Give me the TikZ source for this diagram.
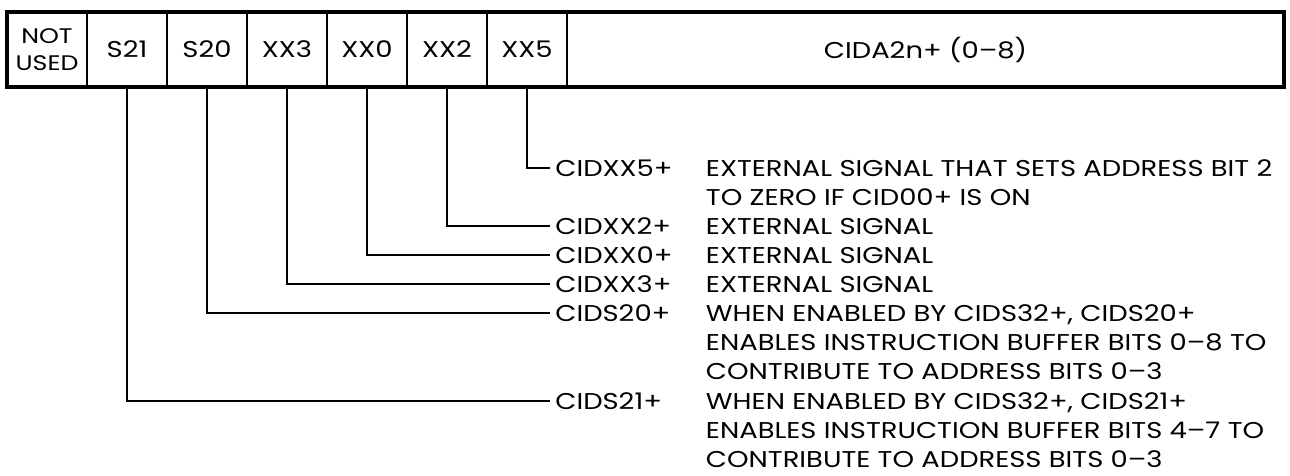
\documentclass[tikz,border=0pt]{standalone}
\usepackage{fontspec}
\setmainfont[FakeStretch=1.2]{Poppins}
\usetikzlibrary{
    positioning
}
\tikzset{
    field/.style={
        draw,
        rectangle,
        line width=1.1pt,
        inner sep=0pt,
        outer sep=0pt,
        minimum width=16mm,
        minimum height=15mm,
        align=center
    },
    signal/.style={
        anchor=west,
        inner ysep=0pt,
        inner xsep=2.5pt
    },
    desc/.style={
        anchor=base west,
        inner sep=0pt
    }
}

\begin{document}
\begin{tikzpicture}[
    x=0.2mm,
    y=-0.2mm,
    font=\fontsize{13pt}{16.5pt}\selectfont,
    line width=1.1pt
]
    \useasboundingbox (0,0) rectangle (1290,475);

    % Campos del registro
    \node[field, font=\fontsize{12pt}{15pt}\selectfont] (nu) at (47,49.5) {NOT\\USED};
    \node[field, right=0pt of nu]  (s21) {S21};
    \node[field, right=0pt of s21] (s20) {S20};
    \node[field, right=0pt of s20] (xx3) {XX3};
    \node[field, right=0pt of xx3] (xx0) {XX0};
    \node[field, right=0pt of xx0] (xx2) {XX2};
    \node[field, right=0pt of xx2] (xx5) {XX5};
    \node[field, right=0pt of xx5, minimum width=143.4mm] (cida) {CIDA2n+ (0--8)};
    \draw[line width=1.8pt] (nu.north west) rectangle (cida.south east);

    % Nombres de senales
    \node[signal] (lxx5) at (550,168) {CIDXX5+};
    \node[signal] (lxx2) at (550,226) {CIDXX2+};
    \node[signal] (lxx0) at (550,255) {CIDXX0+};
    \node[signal] (lxx3) at (550,284) {CIDXX3+};
    \node[signal] (ls20) at (550,313) {CIDS20+};
    \node[signal] (ls21) at (550,401) {CIDS21+};

    % Descripciones
    \coordinate (dcol) at (705,0);
    \node[desc] (dxx5) at (dcol |- lxx5.base) {\begin{tabular}[t]{@{}l@{}}
        EXTERNAL SIGNAL THAT SETS ADDRESS BIT 2\\
        TO ZERO IF CID00+ IS ON\end{tabular}};
    \node[desc] (dxx2) at (dcol |- lxx2.base) {EXTERNAL SIGNAL};
    \node[desc] (dxx0) at (dcol |- lxx0.base) {EXTERNAL SIGNAL};
    \node[desc] (dxx3) at (dcol |- lxx3.base) {EXTERNAL SIGNAL};
    \node[desc] (ds20) at (dcol |- ls20.base) {\begin{tabular}[t]{@{}l@{}}
        WHEN ENABLED BY CIDS32+, CIDS20+\\
        ENABLES INSTRUCTION BUFFER BITS 0--8 TO\\
        CONTRIBUTE TO ADDRESS BITS 0--3\end{tabular}};
    \node[desc] (ds21) at (dcol |- ls21.base) {\begin{tabular}[t]{@{}l@{}}
        WHEN ENABLED BY CIDS32+, CIDS21+\\
        ENABLES INSTRUCTION BUFFER BITS 4--7 TO\\
        CONTRIBUTE TO ADDRESS BITS 0--3\end{tabular}};

    % Conexiones
    \draw (xx5.south) |- (lxx5.west);
    \draw (xx2.south) |- (lxx2.west);
    \draw (xx0.south) |- (lxx0.west);
    \draw (xx3.south) |- (lxx3.west);
    \draw (s20.south) |- (ls20.west);
    \draw (s21.south) |- (ls21.west);

\end{tikzpicture}
\end{document}
